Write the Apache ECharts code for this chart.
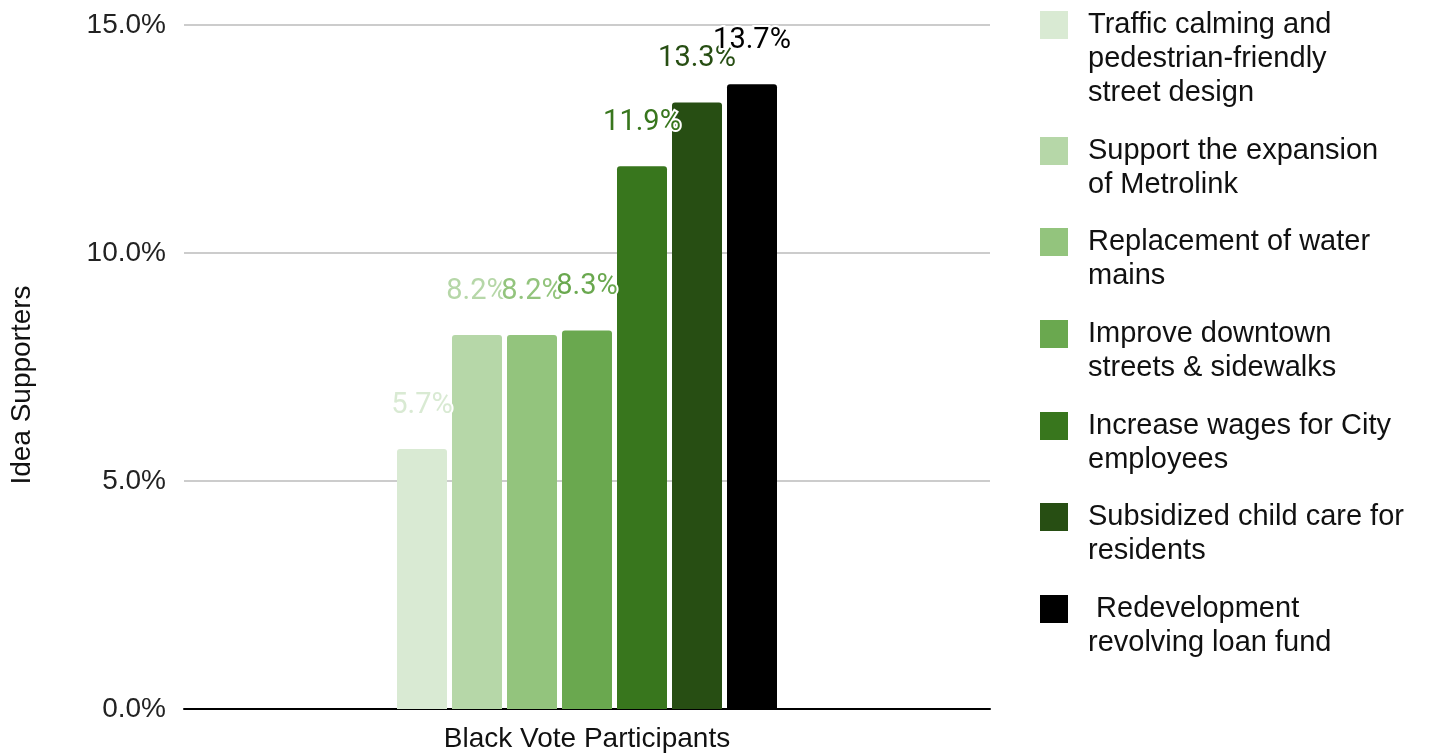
<!DOCTYPE html>
<html>
<head>
<meta charset="utf-8">
<script src="https://cdn.jsdelivr.net/npm/echarts@6/dist/echarts.min.js"></script>
<style>
  html, body { margin: 0; padding: 0; background: #fff; }
  #main { width: 1429px; height: 756px; }
</style>
</head>
<body>
<div id="main"></div>
<script>
var categories = ['Black Vote Participants'];
var ideaNames = [
  'Traffic calming and pedestrian-friendly street design',
  'Support the expansion of Metrolink',
  'Replacement of water mains',
  'Improve downtown streets & sidewalks',
  'Increase wages for City employees',
  'Subsidized child care for residents',
  ' Redevelopment revolving loan fund'
];
// legend text as it wraps in the picture
var legendText = [
  'Traffic calming and\npedestrian-friendly\nstreet design',
  'Support the expansion\nof Metrolink',
  'Replacement of water\nmains',
  'Improve downtown\nstreets & sidewalks',
  'Increase wages for City\nemployees',
  'Subsidized child care for\nresidents',
  ' Redevelopment\nrevolving loan fund'
];
var supporters = [5.7, 8.2, 8.2, 8.3, 11.9, 13.3, 13.7];
var colors = ['#d9ead3', '#b6d7a8', '#93c47d', '#6aa84f', '#38761d', '#274e13', '#000000'];
var yTicks = [0, 5, 10, 15];

var lineH = 34;
var legendTops = [8, 134, 225, 317, 409, 500, 592];

var series = [];
var legends = [];
for (var i = 0; i < ideaNames.length; i++) {
  series.push({
    name: ideaNames[i],
    type: 'bar',
    data: [supporters[i]],
    barWidth: 50,
    barGap: '10%',
    itemStyle: { color: colors[i], borderRadius: [3, 3, 0, 0] },
    label: {
      show: true,
      position: 'top',
      distance: 29,
      formatter: function (p) { return p.value.toFixed(1) + '%'; },
      color: colors[i],
      fontFamily: 'Roboto',
      fontSize: 29,
      textBorderColor: '#fff',
      textBorderWidth: 4
    }
  });
  var n = legendText[i].split('\n').length;
  var h = n * lineH;
  legends.push({
    data: [ideaNames[i]],
    left: 1040,
    top: legendTops[i],
    padding: 0,
    itemWidth: 28,
    itemHeight: h,
    itemGap: 0,
    icon: 'path://M0,0L0.01,0M0,3L28,3L28,31L0,31ZM0,' + h + 'L0.01,' + h,
    formatter: (function (t) { return function () { return t; }; })(legendText[i]),
    textStyle: {
      fontFamily: 'Liberation Sans',
      fontSize: 29,
      lineHeight: lineH,
      color: '#111',
      padding: [0, 0, 0, 15]
    },
    selectedMode: false
  });
}

var chart = echarts.init(document.getElementById('main'));
var option = {
  animation: false,
  grid: { left: 181, right: 439, top: 25, bottom: 47 },
  legend: legends,
  xAxis: {
    type: 'category',
    data: categories,
    axisLine: { lineStyle: { color: '#000', width: 2 } },
    axisTick: { show: false },
    axisLabel: {
      fontFamily: 'Liberation Sans',
      fontSize: 28,
      color: '#111',
      margin: 16
    }
  },
  yAxis: {
    type: 'value',
    min: yTicks[0],
    max: yTicks[yTicks.length - 1],
    interval: 5,
    name: 'Idea Supporters',
    nameLocation: 'middle',
    nameGap: 148,
    nameTextStyle: {
      fontFamily: 'Liberation Sans',
      fontSize: 28,
      color: '#111',
      padding: [0, 36, 0, 0]
    },
    axisLine: { show: false },
    axisTick: { show: false },
    axisLabel: {
      formatter: function (v) { return v.toFixed(1) + '%'; },
      fontFamily: 'Liberation Sans',
      fontSize: 28,
      color: '#222',
      margin: 18
    },
    splitLine: { lineStyle: { color: '#cccccc', width: 2 } }
  },
  series: series
};
option && chart.setOption(option);
</script>
</body>
</html>
